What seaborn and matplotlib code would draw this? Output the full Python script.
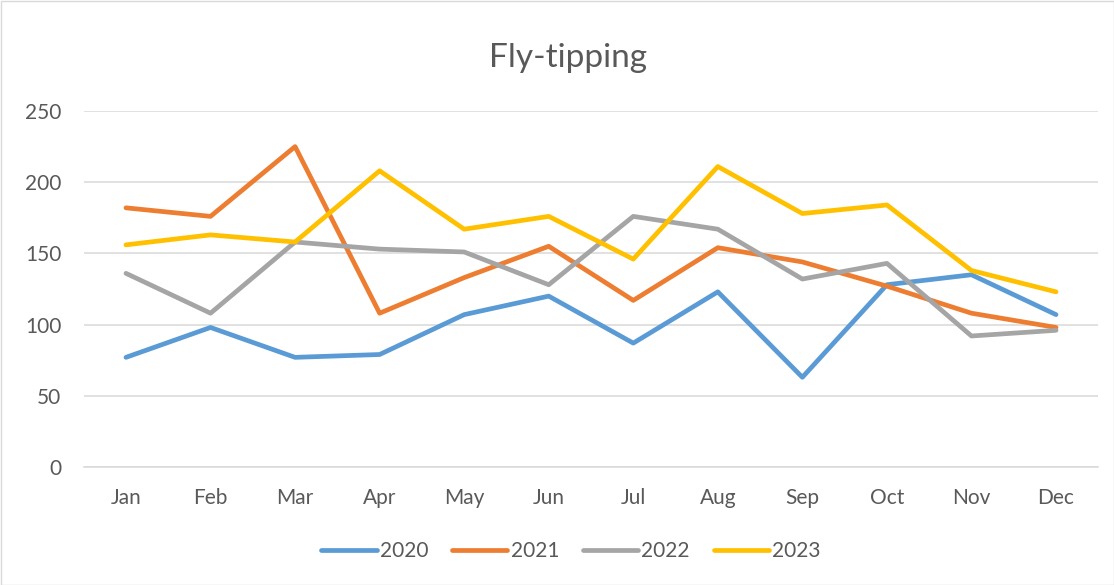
import matplotlib
matplotlib.use("Agg")
import matplotlib.pyplot as plt
import seaborn as sns
import pandas as pd
from matplotlib.patches import Rectangle
from matplotlib.lines import Line2D

months = ["Jan", "Feb", "Mar", "Apr", "May", "Jun", "Jul", "Aug", "Sep", "Oct", "Nov", "Dec"]
years = ["2020", "2021", "2022", "2023"]
v2020 = [77, 98, 77, 79, 107, 120, 87, 123, 63, 128, 135, 107]
v2021 = [182, 176, 225, 108, 133, 155, 117, 154, 144, 127, 108, 98]
v2022 = [136, 108, 158, 153, 151, 128, 176, 167, 132, 143, 92, 96]
v2023 = [156, 163, 158, 208, 167, 176, 146, 211, 178, 184, 138, 123]
colors = ["#5B9BD5", "#ED7D31", "#A5A5A5", "#FFC000"]
yticks = [0, 50, 100, 150, 200, 250]

rows = []
for yr, vals in zip(years, [v2020, v2021, v2022, v2023]):
    for i, v in enumerate(vals):
        rows.append({"month": i, "value": v, "year": yr})
df = pd.DataFrame(rows)

sns.set_theme(style="white")
plt.rcParams["font.family"] = ["Lato", "DejaVu Sans"]

fig = plt.figure(figsize=(11.14, 5.85), dpi=100)
ax = fig.add_axes([83.7 / 1114, (585 - 467) / 585, (1098.3 - 83.7) / 1114, (467 - 111) / 585])

sns.lineplot(data=df, x="month", y="value", hue="year", palette=colors,
             linewidth=3.4, ax=ax, legend=False, sort=False)
for ln in ax.lines:
    ln.set_solid_capstyle("round")
    ln.set_solid_joinstyle("round")

ax.set_xlim(-0.5, 11.5)
ax.set_ylim(0, 250)
ax.set_yticks(yticks)
ax.set_yticklabels([str(t) for t in yticks])
ax.set_xticks(range(12))
ax.set_xticklabels(months)
ax.set_xlabel("")
ax.set_ylabel("")
ax.grid(axis="y", color="#d9d9d9", linewidth=1.1)
ax.set_axisbelow(True)
for s in ["top", "right", "left"]:
    ax.spines[s].set_visible(False)
ax.spines["bottom"].set_color("#d9d9d9")
ax.spines["bottom"].set_linewidth(1.1)
ax.tick_params(axis="both", length=0, labelsize=15, colors="#595959")
ax.tick_params(axis="x", pad=15)
ax.tick_params(axis="y", pad=16)

fig.text(568 / 1114, (585 - 58) / 585, "Fly-tipping", ha="center", va="center",
         fontsize=24, color="#595959")

handles = [Line2D([0], [0], color=c, linewidth=3.4, solid_capstyle="round") for c in colors]
fig.legend(handles, years, loc="center", bbox_to_anchor=(571 / 1114, (585 - 551) / 585),
           ncol=4, frameon=False, fontsize=15, labelcolor="#595959",
           handlelength=2.65, handletextpad=0.15, columnspacing=1.15)

fig.patches.append(Rectangle((0.5 / 1114, 0.5 / 585), 1 - 1 / 1114, 1 - 1 / 585,
                             transform=fig.transFigure, fill=False,
                             edgecolor="#d9d9d9", linewidth=1))

fig.savefig("out.png", dpi=100)
